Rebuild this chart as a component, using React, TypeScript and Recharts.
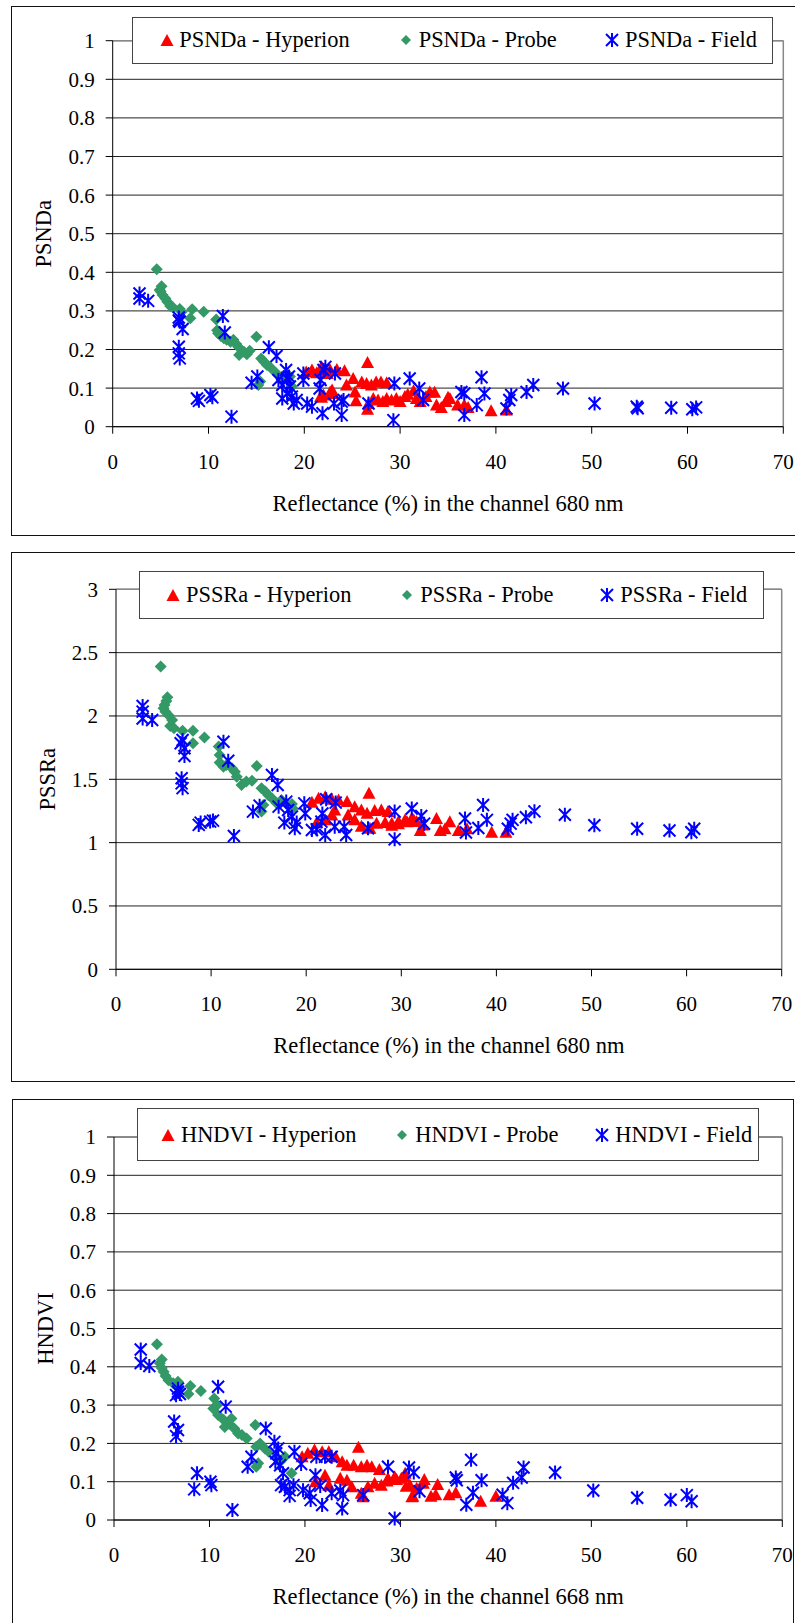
import React from 'react'
import {
  ScatterChart,
  Scatter,
  XAxis,
  YAxis,
  CartesianGrid,
  ReferenceLine,
} from 'recharts'

// x = reflectance (%), y = index value
const xTicks = [0, 10, 20, 30, 40, 50, 60, 70]
const tenthTicks = [0, 0.1, 0.2, 0.3, 0.4, 0.5, 0.6, 0.7, 0.8, 0.9, 1]
const halfTicks = [0, 0.5, 1, 1.5, 2, 2.5, 3]

const psndaHyperion = [
  [20.2, 0.142], [20.8, 0.147], [21.3, 0.14], [21.8, 0.155], [22.0, 0.147], [22.4, 0.138], [22.7, 0.147], [23.4, 0.148], [24.2, 0.145],
  [21.7, 0.078], [21.8, 0.076], [22.0, 0.082], [22.7, 0.09], [22.9, 0.095], [23.0, 0.086],
  [24.4, 0.108], [25.1, 0.125], [25.3, 0.09], [25.4, 0.067], [26.0, 0.116], [26.6, 0.166], [26.5, 0.112], [27.0, 0.108], [27.5, 0.116], [28.0, 0.116], [28.6, 0.114],
  [26.6, 0.045], [26.7, 0.06], [27.2, 0.073], [27.7, 0.069], [28.2, 0.065], [28.6, 0.073], [29.1, 0.069], [29.6, 0.073], [30.0, 0.065], [30.5, 0.078],
  [30.8, 0.084], [31.4, 0.093], [31.7, 0.073], [32.1, 0.065], [32.7, 0.078], [33.1, 0.09], [33.6, 0.089], [33.8, 0.056], [34.3, 0.05], [34.8, 0.065],
  [35.0, 0.076], [35.2, 0.073], [36.0, 0.056], [36.7, 0.056], [37.1, 0.05], [39.5, 0.041], [41.1, 0.043],
]
const psndaProbe = [
  [4.6, 0.408], [5.1, 0.364], [4.9, 0.354], [5.0, 0.35], [5.2, 0.341], [5.5, 0.332], [5.7, 0.324], [6.0, 0.313], [6.3, 0.309], [7.0, 0.305], [7.2, 0.298],
  [8.3, 0.304], [8.1, 0.281], [9.5, 0.298],
  [10.8, 0.278], [10.9, 0.25], [11.0, 0.242], [11.3, 0.235], [11.6, 0.229], [11.9, 0.225], [12.3, 0.22], [12.6, 0.225], [12.9, 0.214], [13.1, 0.207],
  [13.2, 0.186], [13.7, 0.194], [14.0, 0.188], [14.3, 0.197],
  [15.0, 0.233], [15.5, 0.177], [15.8, 0.168], [16.1, 0.16], [16.5, 0.153], [15.4, 0.117], [15.2, 0.108],
  [17.1, 0.138], [17.7, 0.13], [18.2, 0.121], [18.5, 0.13], [18.7, 0.104],
]
const psndaField = [
  [2.8, 0.345], [2.8, 0.332], [3.7, 0.326],
  [6.9, 0.283], [6.9, 0.275], [7.0, 0.272], [7.3, 0.253],
  [6.9, 0.207], [6.9, 0.19], [7.0, 0.177],
  [8.8, 0.073], [9.0, 0.067], [10.2, 0.082], [10.4, 0.076],
  [11.5, 0.287], [11.7, 0.244], [12.4, 0.026],
  [14.5, 0.114], [15.1, 0.13], [16.3, 0.206], [17.1, 0.183],
  [17.3, 0.121], [17.7, 0.108], [18.1, 0.147], [17.7, 0.073], [18.2, 0.086], [18.5, 0.104], [18.7, 0.078], [18.9, 0.06], [19.2, 0.069], [18.4, 0.13], [18.2, 0.125],
  [19.9, 0.138], [19.9, 0.121], [20.3, 0.06], [20.8, 0.052],
  [21.6, 0.099], [21.7, 0.121], [22.0, 0.147], [21.9, 0.035], [22.2, 0.155],
  [23.2, 0.138], [23.1, 0.06], [23.9, 0.065], [23.9, 0.03], [24.1, 0.069],
  [26.7, 0.06], [29.3, 0.017], [29.4, 0.112], [31.0, 0.125], [32.0, 0.099], [32.4, 0.069],
  [36.4, 0.09], [36.7, 0.086], [36.7, 0.03], [38.0, 0.056], [38.5, 0.128], [38.8, 0.086],
  [41.1, 0.047], [41.4, 0.069], [41.6, 0.082], [43.2, 0.09], [43.9, 0.108],
  [47.0, 0.099], [50.3, 0.06], [54.7, 0.052], [54.8, 0.048], [58.3, 0.049], [60.5, 0.045], [60.9, 0.05],
]

const pssraHyperion = [
  [20.6, 1.318], [21.3, 1.35], [22.0, 1.363], [22.7, 1.342], [23.4, 1.337], [24.3, 1.324], [25.1, 1.284], [25.8, 1.258], [26.6, 1.39], [26.4, 1.232],
  [27.2, 1.253], [27.9, 1.258], [28.6, 1.245],
  [21.1, 1.158], [22.0, 1.18], [22.7, 1.218], [23.0, 1.258], [24.4, 1.218], [25.1, 1.18], [25.8, 1.13], [26.7, 1.113], [27.4, 1.153], [28.3, 1.158],
  [29.0, 1.153], [29.0, 1.137], [29.7, 1.166], [29.7, 1.15], [30.4, 1.18], [30.6, 1.165], [31.1, 1.192], [31.3, 1.18], [31.6, 1.166], [32.0, 1.096],
  [32.3, 1.14], [33.7, 1.19], [34.1, 1.096], [34.6, 1.11], [35.1, 1.165], [36.0, 1.096], [36.9, 1.11], [39.5, 1.082], [41.0, 1.082],
]
const pssraProbe = [
  [4.7, 2.39], [5.4, 2.147], [5.3, 2.118], [5.1, 2.087], [5.0, 2.06], [5.2, 2.034], [5.5, 2.008], [5.9, 1.968], [5.7, 1.92], [6.1, 1.903], [7.0, 1.884],
  [8.1, 1.884], [8.1, 1.784], [9.3, 1.83],
  [10.8, 1.758], [10.9, 1.692], [10.9, 1.632], [11.3, 1.6], [11.6, 1.613], [12.2, 1.587], [12.5, 1.56], [12.7, 1.52], [13.2, 1.455], [13.7, 1.482],
  [14.3, 1.489], [14.8, 1.605],
  [15.3, 1.43], [15.7, 1.403], [16.0, 1.376], [16.4, 1.35], [16.9, 1.31], [15.3, 1.245], [15.5, 1.297],
  [17.4, 1.337], [17.9, 1.31], [18.5, 1.305], [18.6, 1.27],
]
const pssraField = [
  [2.8, 2.079], [2.8, 2.034], [2.8, 1.98], [3.8, 1.968],
  [6.8, 1.784], [7.0, 1.81], [7.2, 1.745], [7.2, 1.684],
  [6.9, 1.508], [6.9, 1.468], [7.0, 1.43],
  [8.7, 1.14], [8.9, 1.158], [9.9, 1.166], [10.2, 1.174],
  [11.3, 1.797], [11.8, 1.647], [12.4, 1.053],
  [14.4, 1.245], [15.1, 1.292], [16.4, 1.534], [17.0, 1.455],
  [17.1, 1.284], [17.9, 1.324], [18.1, 1.258], [18.5, 1.205], [17.7, 1.158], [18.8, 1.113], [19.0, 1.158],
  [19.8, 1.31], [19.9, 1.23], [20.6, 1.1], [21.1, 1.105], [22.0, 1.06], [21.6, 1.166], [21.7, 1.23], [22.1, 1.342], [23.1, 1.316], [23.0, 1.126],
  [24.0, 1.126], [24.2, 1.06], [26.5, 1.113],
  [29.3, 1.245], [29.3, 1.026], [31.1, 1.27], [32.1, 1.21], [32.4, 1.15],
  [36.7, 1.19], [36.8, 1.08], [38.1, 1.115], [38.6, 1.297], [39.0, 1.18],
  [41.2, 1.11], [41.5, 1.15], [41.7, 1.18], [43.1, 1.2], [44.0, 1.247],
  [47.2, 1.22], [50.3, 1.137], [54.8, 1.11], [58.2, 1.096], [60.5, 1.082], [60.8, 1.11],
]

const hndviHyperion = [
  [19.7, 0.165], [20.3, 0.174], [21.0, 0.183], [21.8, 0.178], [22.5, 0.178], [23.2, 0.165], [23.9, 0.152], [24.4, 0.143], [25.6, 0.19], [25.1, 0.143],
  [25.9, 0.139], [26.5, 0.143], [27.0, 0.139], [27.8, 0.132],
  [21.1, 0.1], [22.1, 0.117], [22.5, 0.091], [23.7, 0.109], [24.4, 0.104], [24.9, 0.087], [25.9, 0.07], [26.1, 0.061], [26.6, 0.087], [27.3, 0.096],
  [28.0, 0.091], [28.6, 0.102], [28.7, 0.109], [29.4, 0.113], [29.6, 0.106], [30.1, 0.109], [30.4, 0.115], [30.5, 0.122], [30.6, 0.088], [31.0, 0.091],
  [31.2, 0.061], [31.3, 0.062], [31.7, 0.083], [32.4, 0.096], [32.5, 0.106], [33.2, 0.062], [33.7, 0.066], [33.9, 0.093], [35.1, 0.066], [35.8, 0.071],
  [38.4, 0.049], [40.0, 0.062],
]
const hndviProbe = [
  [4.5, 0.459], [5.0, 0.419], [4.8, 0.409], [5.0, 0.397], [5.2, 0.387], [5.4, 0.376], [5.7, 0.365], [6.2, 0.357], [6.7, 0.361], [6.9, 0.343],
  [8.0, 0.35], [7.8, 0.329], [9.1, 0.337],
  [10.5, 0.317], [10.4, 0.291], [10.8, 0.3], [10.9, 0.274], [11.5, 0.261], [11.6, 0.243], [12.0, 0.252], [12.3, 0.265], [12.6, 0.239], [13.0, 0.226],
  [13.4, 0.222], [13.9, 0.213], [14.8, 0.248],
  [14.9, 0.191], [15.3, 0.2], [15.8, 0.187], [16.2, 0.178], [14.9, 0.139], [15.1, 0.148],
  [17.0, 0.165], [17.4, 0.152], [17.9, 0.165], [18.6, 0.122],
]
const hndviField = [
  [2.8, 0.445], [2.8, 0.41], [3.7, 0.402],
  [6.7, 0.343], [6.7, 0.335], [6.9, 0.329], [6.5, 0.326],
  [6.3, 0.257], [6.7, 0.235], [6.5, 0.219],
  [8.7, 0.122], [8.4, 0.08], [10.1, 0.1], [10.2, 0.091],
  [10.9, 0.348], [11.7, 0.296], [12.4, 0.026],
  [14.0, 0.139], [14.4, 0.165], [15.9, 0.239], [16.8, 0.204], [17.2, 0.187],
  [17.0, 0.174], [16.9, 0.152], [17.4, 0.143], [17.7, 0.122], [17.5, 0.091], [17.9, 0.087], [18.4, 0.078], [18.8, 0.091], [18.4, 0.063],
  [18.9, 0.178], [19.6, 0.146], [19.8, 0.078], [20.5, 0.07], [20.6, 0.052], [21.1, 0.117], [21.2, 0.165], [21.6, 0.089], [21.8, 0.039],
  [22.1, 0.165], [22.8, 0.165], [22.8, 0.07], [23.7, 0.077], [23.9, 0.03], [24.0, 0.065], [26.1, 0.065],
  [28.7, 0.139], [29.4, 0.004], [30.9, 0.137], [31.4, 0.124], [32.0, 0.075],
  [35.8, 0.111], [35.9, 0.104], [36.9, 0.04], [37.4, 0.157], [37.6, 0.071], [38.5, 0.104],
  [40.7, 0.066], [41.2, 0.044], [41.8, 0.097], [42.7, 0.111], [42.9, 0.137],
  [46.2, 0.124], [50.2, 0.077], [54.8, 0.058], [58.3, 0.053], [60.0, 0.065], [60.5, 0.049],
]

const FONT = '"Liberation Serif", "Times New Roman", serif'
const RED = '#FF0000'
const GREEN = '#339966'
const BLUE = '#0000FF'

const toPoints = (rows: number[][]) => rows.map(([x, y]) => ({ x, y }))

const TriangleDot = ({ cx, cy }: any) => (
  <polygon points={`${cx},${cy - 6.5} ${cx + 6.5},${cy + 5.5} ${cx - 6.5},${cy + 5.5}`} fill={RED} />
)
const DiamondDot = ({ cx, cy }: any) => (
  <polygon points={`${cx},${cy - 6} ${cx + 6},${cy} ${cx},${cy + 6} ${cx - 6},${cy}`} fill={GREEN} />
)
const StarDot = ({ cx, cy }: any) => (
  <path
    d={`M${cx},${cy - 7}L${cx},${cy + 7}M${cx - 6},${cy - 6}L${cx + 6},${cy + 6}M${cx + 6},${cy - 6}L${cx - 6},${cy + 6}`}
    stroke={BLUE}
    strokeWidth={2}
    fill="none"
  />
)

const LegendMark = ({ kind }: { kind: string }) => (
  <svg width={16} height={16} style={{ display: 'block' }}>
    {kind === 'tri' && <TriangleDot cx={8} cy={8.5} />}
    {kind === 'dia' && <polygon points="8,3 13,8 8,13 3,8" fill={GREEN} />}
    {kind === 'star' && <StarDot cx={8} cy={8} />}
  </svg>
)

interface LegendSpec {
  left: number
  top: number
  width: number
  height: number
  marks: number[]
  texts: number[]
}

interface PanelProps {
  frame: { left: number; top: number; width: number; height: number }
  chartTop: number
  chartHeight: number
  margin: { top: number; right: number; bottom: number; left: number }
  yMax: number
  yTicks: number[]
  yLabel: string
  xLabel: string
  names: string[]
  hyperion: number[][]
  probe: number[][]
  field: number[][]
  legend: LegendSpec
}

const IndexPanel = (p: PanelProps) => {
  const kinds = ['tri', 'dia', 'star']
  return (
    <>
      <div
        style={{
          position: 'absolute',
          left: p.frame.left,
          top: p.frame.top,
          width: p.frame.width,
          height: p.frame.height,
          border: '1.5px solid #111',
          boxSizing: 'border-box',
        }}
      />
      <div style={{ position: 'absolute', left: 0, top: p.chartTop }}>
        <ScatterChart width={795} height={p.chartHeight} margin={p.margin}>
          <CartesianGrid vertical={false} stroke="#222" />
          <XAxis
            type="number"
            dataKey="x"
            domain={[0, 70]}
            ticks={xTicks}
            interval={0}
            height={30}
            tickSize={7}
            tickMargin={20}
            axisLine={{ stroke: '#000' }}
            tickLine={{ stroke: '#000' }}
            tick={{ fill: '#000', fontSize: 21, fontFamily: FONT }}
            label={{ value: p.xLabel, position: 'bottom', offset: 38, fill: '#000', fontSize: 22.5, fontFamily: FONT }}
          />
          <YAxis
            type="number"
            dataKey="y"
            domain={[0, p.yMax]}
            ticks={p.yTicks}
            interval={0}
            width={100}
            tickSize={7}
            tickMargin={11}
            axisLine={{ stroke: '#000' }}
            tickLine={{ stroke: '#000' }}
            tick={{ fill: '#000', fontSize: 21, fontFamily: FONT }}
            tickFormatter={(v: number) => String(Math.round(v * 10) / 10)}
            label={{
              value: p.yLabel,
              angle: -90,
              position: 'insideLeft',
              offset: 30.6,
              fill: '#000',
              fontSize: 22.5,
              fontFamily: FONT,
              style: { textAnchor: 'middle' },
            }}
          />
          <ReferenceLine y={p.yMax} stroke="#888" strokeWidth={1.5} />
          <ReferenceLine x={70} stroke="#888" strokeWidth={1.5} />
          <Scatter name={p.names[0]} data={toPoints(p.hyperion)} shape={TriangleDot} isAnimationActive={false} />
          <Scatter name={p.names[1]} data={toPoints(p.probe)} shape={DiamondDot} isAnimationActive={false} />
          <Scatter name={p.names[2]} data={toPoints(p.field)} shape={StarDot} isAnimationActive={false} />
        </ScatterChart>
      </div>
      {/* Legend */}
      <div
        style={{
          position: 'absolute',
          left: p.legend.left,
          top: p.legend.top,
          width: p.legend.width,
          height: p.legend.height,
          border: '1.5px solid #444',
          boxSizing: 'border-box',
          background: '#fff',
          fontFamily: FONT,
          fontSize: 22.4,
          color: '#000',
        }}
      >
        {p.names.map((name, i) => (
          <React.Fragment key={name}>
            <div
              style={{
                position: 'absolute',
                left: p.legend.marks[i] - p.legend.left - 8,
                top: '50%',
                transform: 'translateY(-50%)',
              }}
            >
              <LegendMark kind={kinds[i]} />
            </div>
            <span
              style={{
                position: 'absolute',
                left: p.legend.texts[i] - p.legend.left,
                top: '50%',
                transform: 'translateY(-50%)',
                lineHeight: 1,
                whiteSpace: 'nowrap',
              }}
            >
              {name}
            </span>
          </React.Fragment>
        ))}
      </div>
    </>
  )
}

const App = () => (
  <div
    style={{
      position: 'absolute',
      left: 0,
      top: 0,
      width: 795,
      height: 1623,
      overflow: 'hidden',
      background: '#fff',
    }}
  >
    <IndexPanel
      frame={{ left: 11, top: 5.5, width: 800, height: 530 }}
      chartTop={0}
      chartHeight={540}
      margin={{ top: 40.7, right: 11.7, bottom: 83.3, left: 12.7 }}
      yMax={1}
      yTicks={tenthTicks}
      yLabel="PSNDa"
      xLabel="Reflectance (%) in the channel 680 nm"
      names={['PSNDa - Hyperion', 'PSNDa - Probe', 'PSNDa - Field']}
      hyperion={psndaHyperion}
      probe={psndaProbe}
      field={psndaField}
      legend={{ left: 132.3, top: 16.5, width: 641, height: 47.2, marks: [165.7, 405, 610.7], texts: [178.3, 417.7, 624] }}
    />
    <IndexPanel
      frame={{ left: 11, top: 552, width: 800, height: 530 }}
      chartTop={540}
      chartHeight={545}
      margin={{ top: 49.3, right: 13.3, bottom: 85.7, left: 16 }}
      yMax={3}
      yTicks={halfTicks}
      yLabel="PSSRa"
      xLabel="Reflectance (%) in the channel 680 nm"
      names={['PSSRa - Hyperion', 'PSSRa - Probe', 'PSSRa - Field']}
      hyperion={pssraHyperion}
      probe={pssraProbe}
      field={pssraField}
      legend={{ left: 139.3, top: 571, width: 625, height: 48.2, marks: [172.3, 406, 606], texts: [185, 419.3, 619.3] }}
    />
    <IndexPanel
      frame={{ left: 12.3, top: 1099, width: 782, height: 540 }}
      chartTop={1090}
      chartHeight={533}
      margin={{ top: 47, right: 12.7, bottom: 73, left: 14 }}
      yMax={1}
      yTicks={tenthTicks}
      yLabel="HNDVI"
      xLabel="Reflectance (%) in the channel 668 nm"
      names={['HNDVI - Hyperion', 'HNDVI - Probe', 'HNDVI - Field']}
      hyperion={hndviHyperion}
      probe={hndviProbe}
      field={hndviField}
      legend={{ left: 137.3, top: 1107.7, width: 622, height: 53.7, marks: [166.7, 400.7, 600.7], texts: [180, 414.3, 614.3] }}
    />
  </div>
)

export default App
